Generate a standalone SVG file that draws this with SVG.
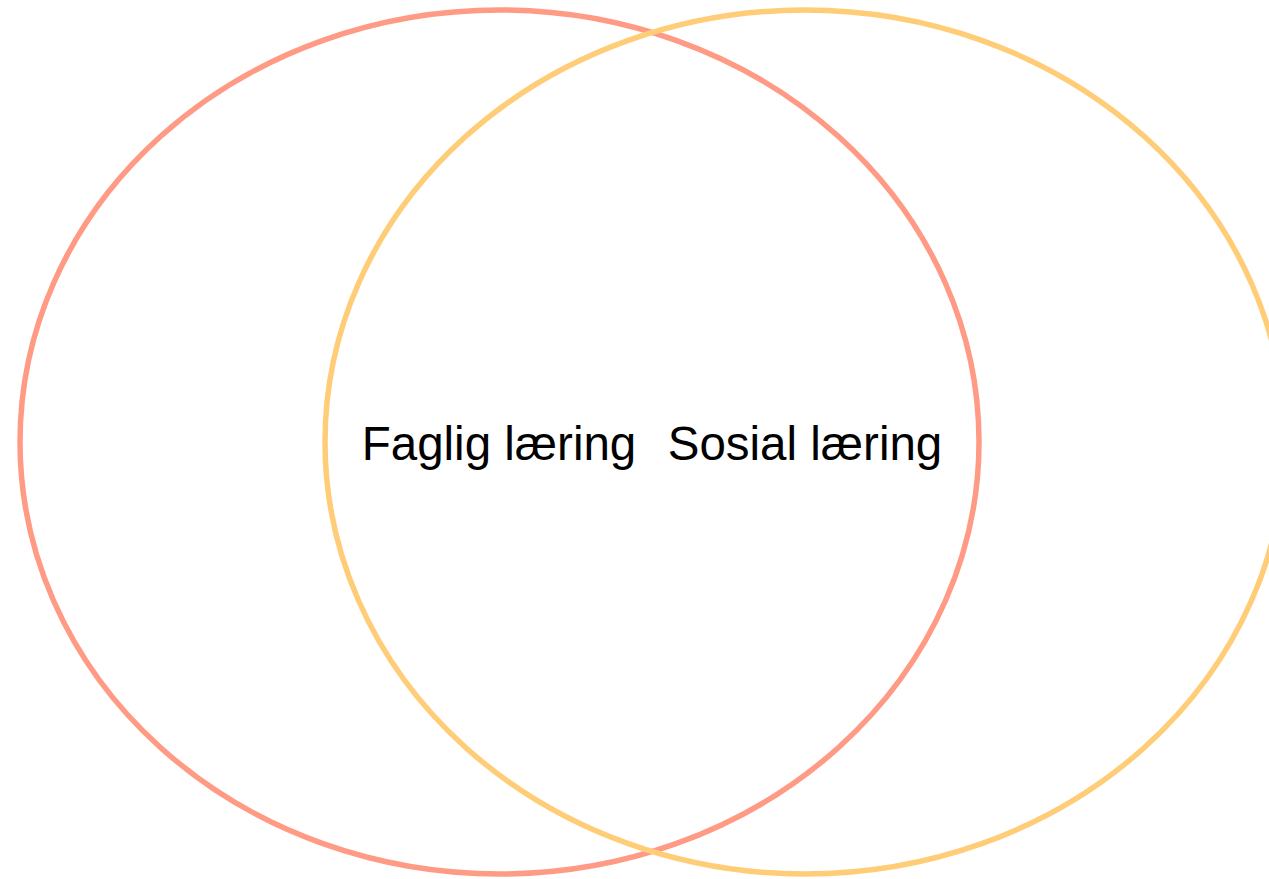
<svg xmlns="http://www.w3.org/2000/svg" width="1269" height="879" viewBox="0 0 1269 879">
<style>
.ring{fill:none;stroke-width:5.5}
.lbl{font-family:"Liberation Sans",Arial,sans-serif;font-size:47.5px;fill:#000;text-anchor:middle}
</style>
<rect width="1269" height="879" fill="#fff"/>
<g id="faglig">
<ellipse class="ring" cx="499.5" cy="442" rx="479.5" ry="432" stroke="#FF9A85"/>
<text class="lbl" x="499" y="460">Faglig læring</text>
</g>
<g id="sosial">
<ellipse class="ring" cx="805" cy="442" rx="480" ry="432" stroke="#FFCD78"/>
<text class="lbl" x="805" y="460">Sosial læring</text>
</g>
<g id="connectors"/>
</svg>
